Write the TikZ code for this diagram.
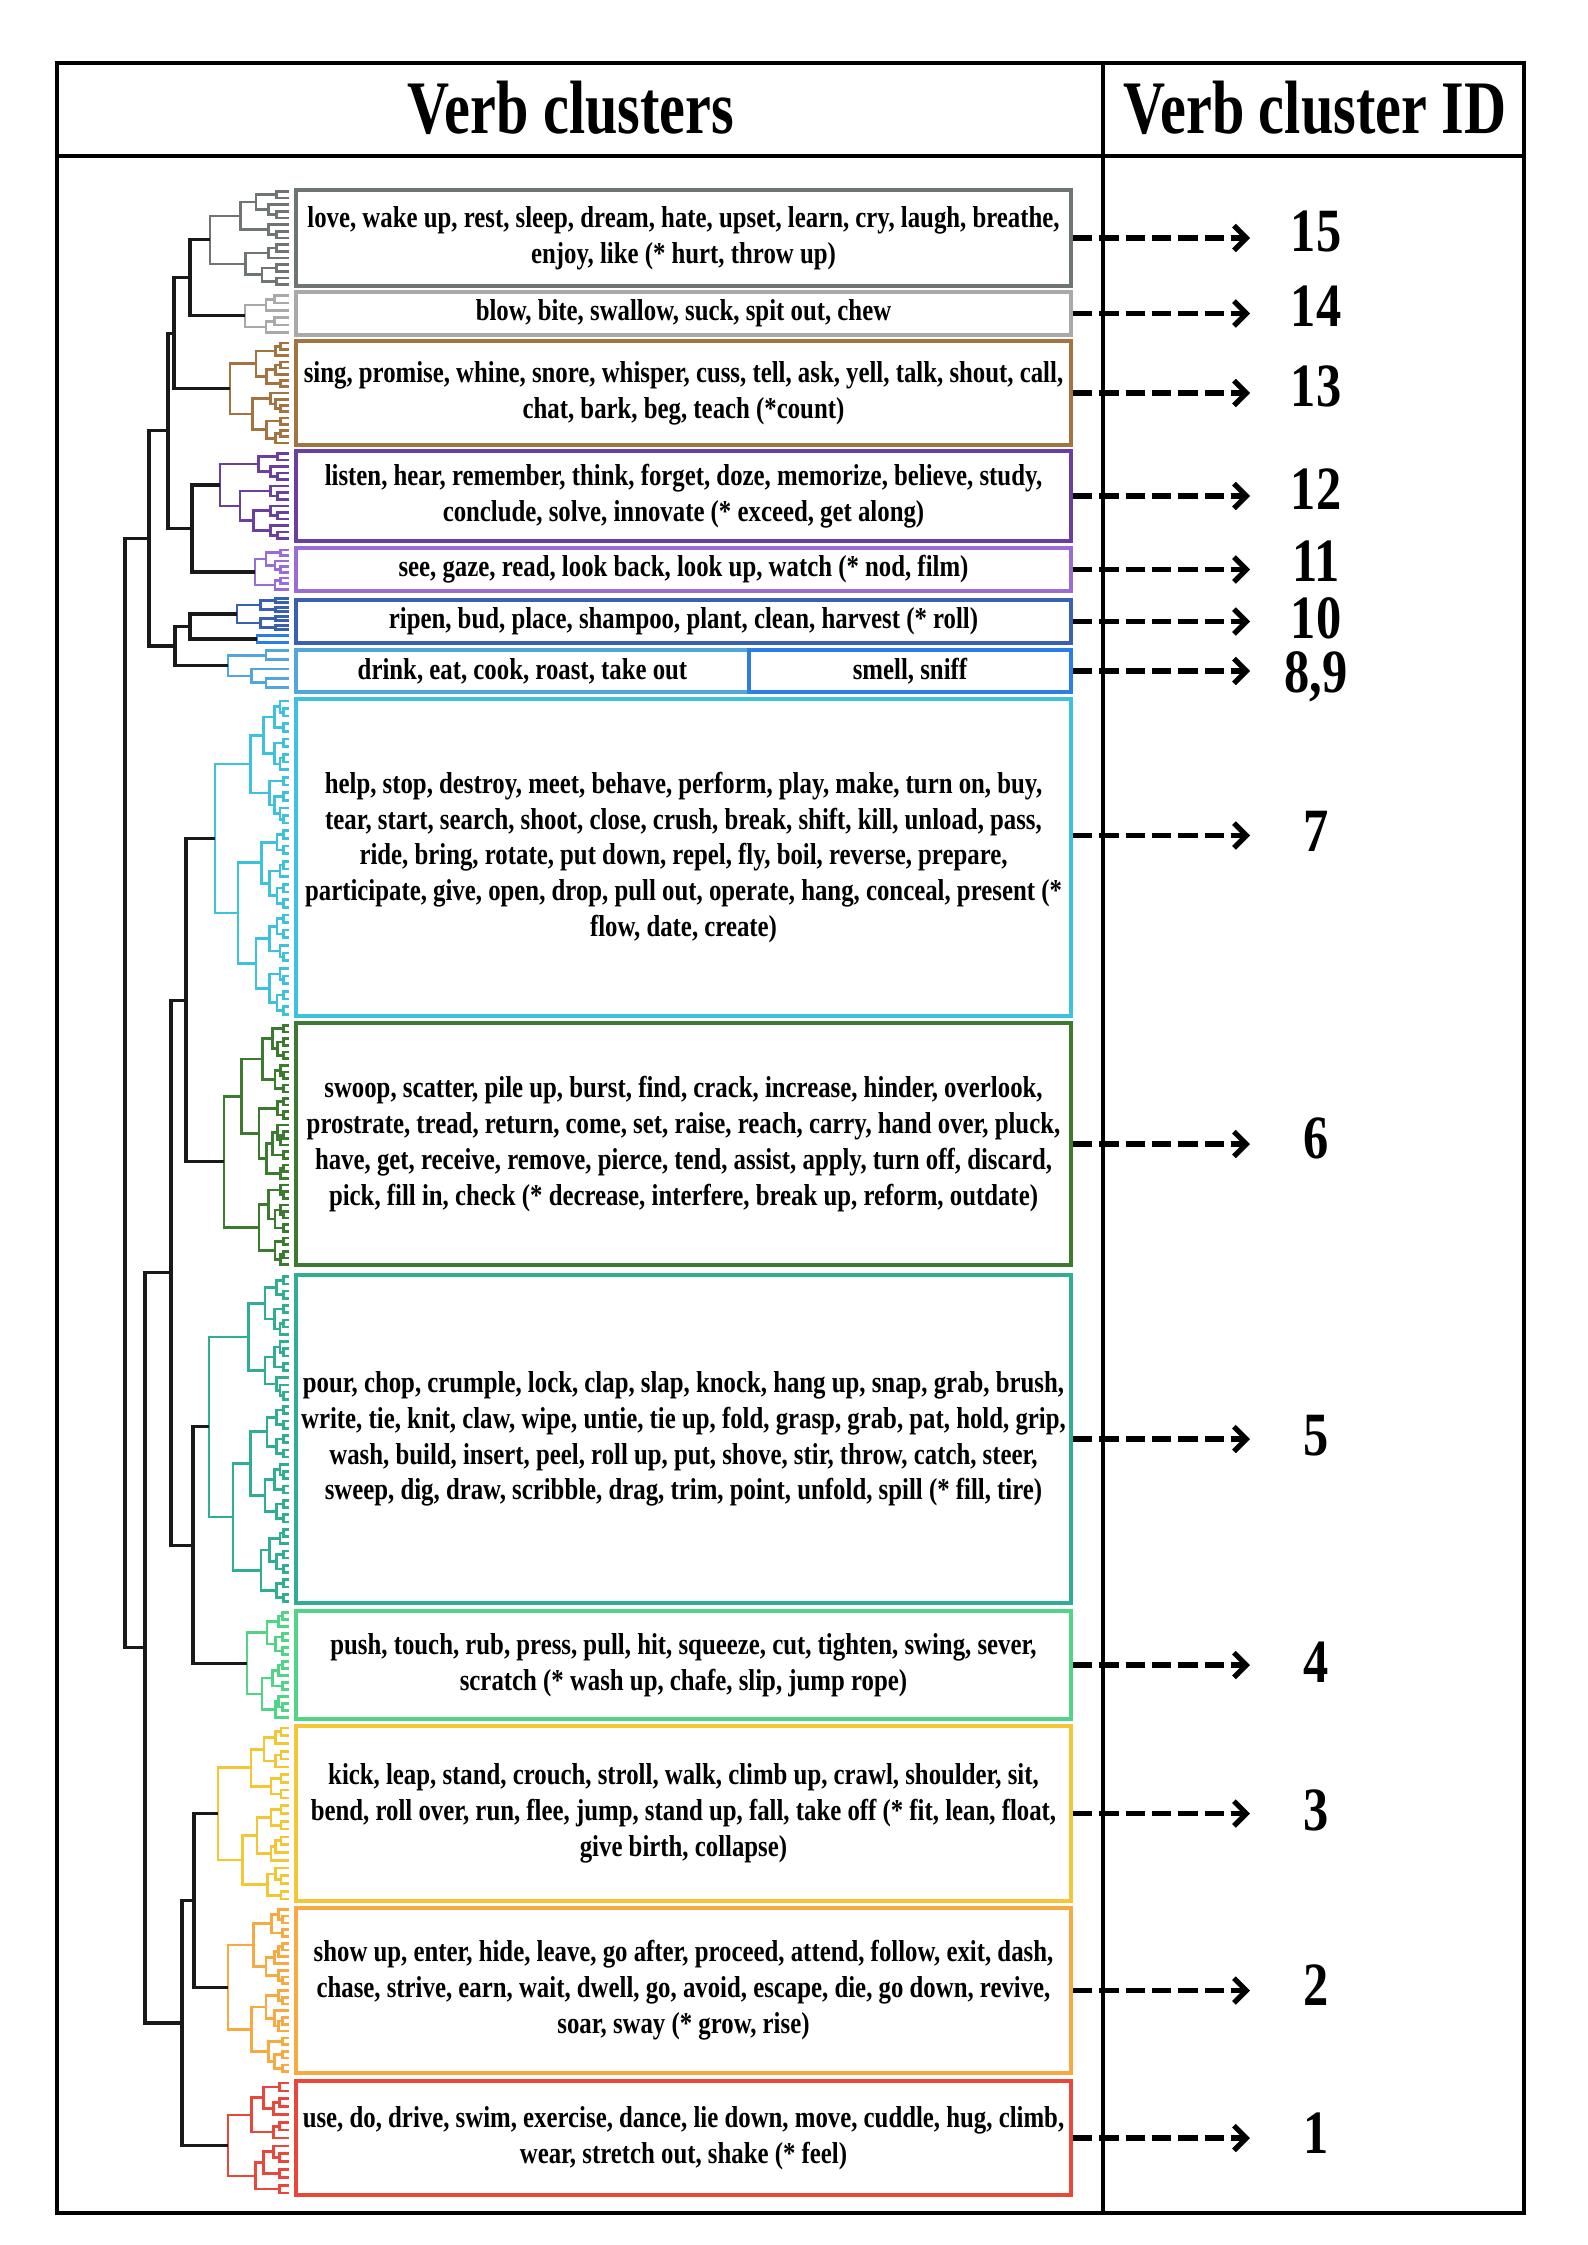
\documentclass[tikz,border=0pt]{standalone}
\usepackage{fontspec}
\newfontfamily\verbfont[FakeStretch=0.82]{Liberation Serif}
\newfontfamily\headfont[FakeStretch=0.77]{Liberation Serif}
\usetikzlibrary{arrows.meta,positioning,calc}

\definecolor{col15}{HTML}{6F7474}
\definecolor{col14}{HTML}{A9A9A9}
\definecolor{col13}{HTML}{A3743F}
\definecolor{col12}{HTML}{6B3FA0}
\definecolor{col11}{HTML}{9C6CD6}
\definecolor{col10}{HTML}{3A60B2}
\definecolor{col9}{HTML}{2C7DE8}
\definecolor{col8}{HTML}{52A6DE}
\definecolor{col7}{HTML}{3DC2DD}
\definecolor{col6}{HTML}{3B7A2F}
\definecolor{col5}{HTML}{2FAE93}
\definecolor{col4}{HTML}{50D486}
\definecolor{col3}{HTML}{F2C634}
\definecolor{col2}{HTML}{F7AA42}
\definecolor{col1}{HTML}{E8473A}

\tikzset{
  >=Stealth,
  frame/.style={line width=1.2pt},
  clubox/.style={rectangle, draw, line width=1pt, inner sep=0pt, align=center,
    minimum width=7.75cm, font=\verbfont\bfseries\fontsize{8.6}{10.2}\selectfont},
  idarrow/.style={-{Straight Barb[length=3.5pt,width=7pt]}, line width=1.5pt, dash pattern=on 5.5pt off 2pt},
  idnum/.style={inner sep=0pt, font=\verbfont\bfseries\fontsize{17.5}{17.5}\selectfont},
  colhead/.style={inner sep=0pt, font=\headfont\bfseries\fontsize{21.5}{24}\selectfont},
  blk/.style={line width=0.9pt, black!90},
  twig/.style={line width=0.75pt}
}

% --- dendrogram helpers ---
\def\tipx{289}
% leaves #1..#2 of the current cluster; returns \dendx, \dendy
\newcommand\dtree[2]{%
  \ifnum#1=#2\relax
    \pgfmathsetmacro\tmp{\ytop+(#1-0.5)*\lgap}%
    \xdef\dendy{\tmp}\xdef\dendx{\tipx}%
  \else
    \pgfmathtruncatemacro\dsplit{#1+floor((#2-#1)*(0.3+0.4*rnd))}%
    \pgfmathtruncatemacro\dnext{\dsplit+1}%
    \pgfmathsetmacro\nx{\tipx-(\tipx-\rootx)*((#2-#1)/(\nleaf-1))^0.7}%
    \edef\callA{\noexpand\dtree{#1}{\dsplit}}%
    \edef\callB{\noexpand\dtree{\dnext}{#2}}%
    \begingroup\callA\endgroup
    \let\ya\dendy \let\xa\dendx
    \begingroup\callB\endgroup
    \draw[twig, color=\clr] (\xa,\ya) -- (\nx,\ya) -- (\nx,\dendy) -- (\dendx,\dendy);
    \pgfmathsetmacro\tmp{(\ya+\dendy)/2}%
    \xdef\dendy{\tmp}\xdef\dendx{\nx}%
  \fi}
% #1 name, #2 colour, #3 top, #4 bottom, #5 leaves, #6 root x
\newcommand\drawcluster[6]{%
  \def\clr{#2}\def\ytop{#3}\def\nleaf{#5}\def\rootx{#6}%
  \pgfmathsetmacro\lgap{(#4-#3)/#5}%
  \begingroup\dtree{1}{#5}\endgroup
  \coordinate (#1) at (\dendx,\dendy);}
% #1 name, #2 x, #3 upper child, #4 lower child
\newcommand\joinpair[4]{%
  \draw[blk] let \p1=(#3), \p2=(#4) in (#3) -- (#2,\y1) -- (#2,\y2) -- (#4);
  \path let \p1=(#3), \p2=(#4) in coordinate (#1) at (#2,{(\y1+\y2)/2});}

\begin{document}
\begin{tikzpicture}[x=0.01cm, y=-0.01cm]
  \useasboundingbox (0,0) rectangle (1587,2245);
  \pgfmathsetseed{11}

  % --- Table frame ---
  \draw[frame] (57,63) rectangle (1524,2213);
  \draw[frame] (57,156) -- (1524,156);
  \draw[line width=1pt] (1103,63) -- (1103,2213);
  \node[colhead] (hclu) at (571,108) {Verb clusters};
  \node[colhead] (hid) at (1315,108) {Verb cluster ID};

  % --- Dendrogram: coloured clusters ---
  \drawcluster{c15}{col15}{188}{288}{15}{210}
  \drawcluster{c14}{col14}{292}{336}{6}{245}
  \drawcluster{c13}{col13}{340}{446}{17}{230}
  \drawcluster{c12}{col12}{450}{542}{14}{220}
  \drawcluster{c11}{col11}{547}{592}{8}{255}
  \drawcluster{c10}{col10}{596}{632}{8}{237}
  \drawcluster{c9}{col9}{632}{646}{2}{257}
  \drawcluster{c8}{col8}{646}{692}{5}{228}
  \drawcluster{c7}{col7}{697}{1018}{42}{215}
  \drawcluster{c6}{col6}{1022}{1268}{37}{224}
  \drawcluster{c5}{col5}{1273}{1605}{46}{209}
  \drawcluster{c4}{col4}{1609}{1721}{16}{247}
  \drawcluster{c3}{col3}{1724}{1903}{23}{218}
  \drawcluster{c2}{col2}{1906}{2075}{25}{228}
  \drawcluster{c1}{col1}{2079}{2197}{15}{228}

  % --- Dendrogram: upper links ---
  \joinpair{k1}{190}{c15}{c14}
  \joinpair{k2}{174}{k1}{c13}
  \joinpair{k3}{192}{c12}{c11}
  \joinpair{k4}{168}{k2}{k3}
  \joinpair{k5}{190}{c10}{c9}
  \joinpair{k6}{175}{k5}{c8}
  \joinpair{k7}{149}{k4}{k6}
  \joinpair{k8}{186}{c7}{c6}
  \joinpair{k9}{193}{c5}{c4}
  \joinpair{k10}{171}{k8}{k9}
  \joinpair{k11}{194}{c3}{c2}
  \joinpair{k12}{182}{k11}{c1}
  \joinpair{k13}{145}{k10}{k12}
  \joinpair{k14}{125}{k7}{k13}

  % --- Verb boxes ---
  \node[clubox, draw=col15, minimum height=0.96cm] (b15) at (683.5,238) {love, wake up, rest, sleep, dream, hate, upset, learn, cry, laugh, breathe,\\ enjoy, like (* hurt, throw up)};
  \node[clubox, draw=col14, minimum height=0.43cm] (b14) at (683.5,313.5) {blow, bite, swallow, suck, spit out, chew};
  \node[clubox, draw=col13, minimum height=1.04cm] (b13) at (683.5,393) {sing, promise, whine, snore, whisper, cuss, tell, ask, yell, talk, shout, call,\\ chat, bark, beg, teach (*count)};
  \node[clubox, draw=col12, minimum height=0.90cm] (b12) at (683.5,496) {listen, hear, remember, think, forget, doze, memorize, believe, study,\\ conclude, solve, innovate (* exceed, get along)};
  \node[clubox, draw=col11, minimum height=0.43cm] (b11) at (683.5,569.5) {see, gaze, read, look back, look up, watch (* nod, film)};
  \node[clubox, draw=col10, minimum height=0.43cm] (b10) at (683.5,621.5) {ripen, bud, place, shampoo, plant, clean, harvest (* roll)};
  \node[clubox, draw=col8, minimum width=4.53cm, minimum height=0.42cm] (b8) at (522.5,671) {drink, eat, cook, roast, take out};
  \node[clubox, draw=col9, minimum width=3.22cm, minimum height=0.42cm] (b9) at (910,671) {smell, sniff};
  \node[clubox, draw=col7, minimum height=3.17cm] (b7) at (683.5,857.5) {help, stop, destroy, meet, behave, perform, play, make, turn on, buy,\\ tear, start, search, shoot, close, crush, break, shift, kill, unload, pass,\\ ride, bring, rotate, put down, repel, fly, boil, reverse, prepare,\\ participate, give, open, drop, pull out, operate, hang, conceal, present (*\\ flow, date, create)};
  \node[clubox, draw=col6, minimum height=2.42cm] (b6) at (683.5,1144) {swoop, scatter, pile up, burst, find, crack, increase, hinder, overlook,\\ prostrate, tread, return, come, set, raise, reach, carry, hand over, pluck,\\ have, get, receive, remove, pierce, tend, assist, apply, turn off, discard,\\ pick, fill in, check (* decrease, interfere, break up, reform, outdate)};
  \node[clubox, draw=col5, minimum height=3.28cm] (b5) at (683.5,1439) {pour, chop, crumple, lock, clap, slap, knock, hang up, snap, grab, brush,\\ write, tie, knit, claw, wipe, untie, tie up, fold, grasp, grab, pat, hold, grip,\\ wash, build, insert, peel, roll up, put, shove, stir, throw, catch, steer,\\ sweep, dig, draw, scribble, drag, trim, point, unfold, spill (* fill, tire)};
  \node[clubox, draw=col4, minimum height=1.08cm] (b4) at (683.5,1665) {push, touch, rub, press, pull, hit, squeeze, cut, tighten, swing, sever,\\ scratch (* wash up, chafe, slip, jump rope)};
  \node[clubox, draw=col3, minimum height=1.75cm] (b3) at (683.5,1813.5) {kick, leap, stand, crouch, stroll, walk, climb up, crawl, shoulder, sit,\\ bend, roll over, run, flee, jump, stand up, fall, take off (* fit, lean, float,\\ give birth, collapse)};
  \node[clubox, draw=col2, minimum height=1.65cm] (b2) at (683.5,1990.5) {show up, enter, hide, leave, go after, proceed, attend, follow, exit, dash,\\ chase, strive, earn, wait, dwell, go, avoid, escape, die, go down, revive,\\ soar, sway (* grow, rise)};
  \node[clubox, draw=col1, minimum height=1.14cm] (b1) at (683.5,2138) {use, do, drive, swim, exercise, dance, lie down, move, cuddle, hug, climb,\\ wear, stretch out, shake (* feel)};

  % --- Arrows to cluster IDs ---
  \coordinate (tipcol) at (1250,0);
  \coordinate (idcol) at (1316,0);
  \draw[idarrow] (b15.east) -- (b15.east -| tipcol) coordinate (a15);
  \draw[idarrow] (b14.east) -- (b14.east -| tipcol) coordinate (a14);
  \draw[idarrow] (b13.east) -- (b13.east -| tipcol) coordinate (a13);
  \draw[idarrow] (b12.east) -- (b12.east -| tipcol) coordinate (a12);
  \draw[idarrow] (b11.east) -- (b11.east -| tipcol) coordinate (a11);
  \draw[idarrow] (b10.east) -- (b10.east -| tipcol) coordinate (a10);
  \draw[idarrow] (b9.east) -- (b9.east -| tipcol) coordinate (a9);
  \draw[idarrow] ([yshift=0.22cm]b7.east) -- ([yshift=0.22cm]b7.east -| tipcol) coordinate (a7);
  \draw[idarrow] (b6.east) -- (b6.east -| tipcol) coordinate (a6);
  \draw[idarrow] (b5.east) -- (b5.east -| tipcol) coordinate (a5);
  \draw[idarrow] (b4.east) -- (b4.east -| tipcol) coordinate (a4);
  \draw[idarrow] (b3.east) -- (b3.east -| tipcol) coordinate (a3);
  \draw[idarrow] (b2.east) -- (b2.east -| tipcol) coordinate (a2);
  \draw[idarrow] (b1.east) -- (b1.east -| tipcol) coordinate (a1);

  \node[idnum, yshift=0.07cm] (n15) at (a15 -| idcol) {15};
  \node[idnum, yshift=0.07cm] (n14) at (a14 -| idcol) {14};
  \node[idnum, yshift=0.07cm] (n13) at (a13 -| idcol) {13};
  \node[idnum, yshift=0.07cm] (n12) at (a12 -| idcol) {12};
  \node[idnum, yshift=0.08cm] (n11) at (a11 -| idcol) {11};
  \node[idnum, yshift=0.03cm] (n10) at (a10 -| idcol) {10};
  \node[idnum, yshift=-0.06cm] (n9) at (a9 -| idcol) {8,9};
  \node[idnum, yshift=0.04cm] (n7) at (a7 -| idcol) {7};
  \node[idnum, yshift=0.06cm] (n6) at (a6 -| idcol) {6};
  \node[idnum, yshift=0.03cm] (n5) at (a5 -| idcol) {5};
  \node[idnum, yshift=0.03cm] (n4) at (a4 -| idcol) {4};
  \node[idnum, yshift=0.03cm] (n3) at (a3 -| idcol) {3};
  \node[idnum, yshift=0.05cm] (n2) at (a2 -| idcol) {2};
  \node[idnum, yshift=0.05cm] (n1) at (a1 -| idcol) {1};
\end{tikzpicture}
\end{document}
